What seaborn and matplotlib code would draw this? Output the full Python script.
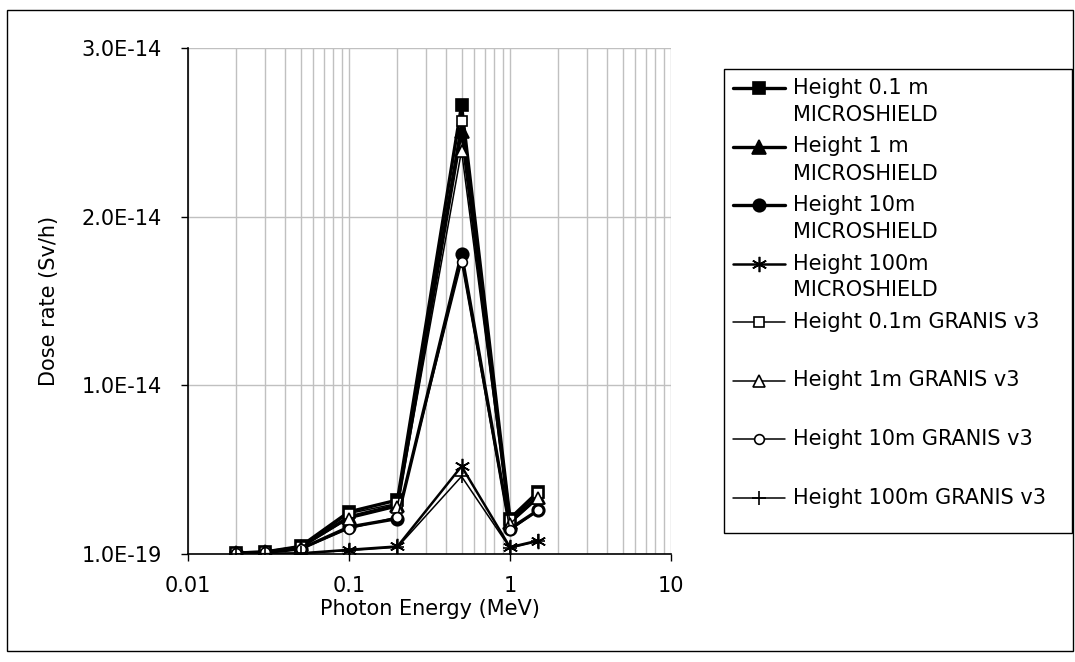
import numpy as np
import pandas as pd
import matplotlib
matplotlib.use("Agg")
import matplotlib.pyplot as plt
import seaborn as sns
from matplotlib.lines import Line2D
from matplotlib.patches import Rectangle

# ---- data (dose rate in units of 1e-14 Sv/h) ----
energy = [0.02, 0.03, 0.05, 0.1, 0.2, 0.5, 1, 1.5]
ms_01m = [0.006, 0.012, 0.045, 0.25, 0.32, 2.66, 0.21, 0.37]
ms_1m = [0.006, 0.011, 0.040, 0.22, 0.29, 2.51, 0.19, 0.34]
ms_10m = [0.005, 0.009, 0.030, 0.16, 0.21, 1.78, 0.15, 0.26]
ms_100m = [0.001, 0.002, 0.004, 0.025, 0.045, 0.52, 0.04, 0.08]
gr_01m = [0.006, 0.012, 0.042, 0.24, 0.30, 2.57, 0.20, 0.36]
gr_1m = [0.006, 0.011, 0.038, 0.21, 0.28, 2.39, 0.18, 0.33]
gr_10m = [0.005, 0.009, 0.028, 0.15, 0.22, 1.73, 0.14, 0.26]
gr_100m = [0.001, 0.002, 0.004, 0.02, 0.04, 0.46, 0.035, 0.075]

labels = ["Height 0.1 m\nMICROSHIELD", "Height 1 m\nMICROSHIELD",
          "Height 10m\nMICROSHIELD", "Height 100m\nMICROSHIELD",
          "Height 0.1m GRANIS v3", "Height 1m GRANIS v3",
          "Height 10m GRANIS v3", "Height 100m GRANIS v3"]
series = [ms_01m, ms_1m, ms_10m, ms_100m, gr_01m, gr_1m, gr_10m, gr_100m]

yticks = [1e-19, 1e-14, 2e-14, 3e-14]
ytick_labels = ["1.0E-19", "1.0E-14", "2.0E-14", "3.0E-14"]
xticks = [0.01, 0.1, 1, 10]
xtick_labels = ["0.01", "0.1", "1", "10"]

# ---- styles ----
styles = [
    dict(marker="s", mfc="black", ms=9, lw=2.4),
    dict(marker="^", mfc="black", ms=10, lw=2.4),
    dict(marker="o", mfc="black", ms=9, lw=2.4),
    dict(marker=(6, 2, 0), mfc="black", ms=11, lw=1.8),
    dict(marker="s", mfc="white", ms=7, lw=1.1),
    dict(marker="^", mfc="white", ms=8, lw=1.1),
    dict(marker="o", mfc="white", ms=7, lw=1.1),
    dict(marker="+", mfc="black", ms=10, lw=1.1),
]

sns.set_theme(style="white")
plt.rcParams["font.family"] = ["DejaVu Sans"]
FS = 15

fig = plt.figure(figsize=(10.75, 6.62), dpi=100)
ax = fig.add_axes([188 / 1075, 1 - 554 / 662, (671 - 188) / 1075, (554 - 48) / 662])

for lab, vals, st in zip(labels, series, styles):
    df = pd.DataFrame({"x": energy, "y": np.array(vals) * 1e-14})
    sns.lineplot(data=df, x="x", y="y", ax=ax, color="black",
                 linewidth=st["lw"], marker=st["marker"], markersize=st["ms"],
                 markerfacecolor=st["mfc"], markeredgecolor="black",
                 markeredgewidth=1.2, legend=False, zorder=3)

ax.set_xscale("log")
ax.set_xlim(0.01, 10)
ax.set_ylim(1e-19, 3e-14)
ax.set_xticks(xticks)
ax.set_xticklabels(xtick_labels)
ax.set_yticks(yticks)
ax.set_yticklabels(ytick_labels)
ax.xaxis.set_minor_locator(matplotlib.ticker.LogLocator(base=10, subs=np.arange(2, 10)))
ax.xaxis.set_minor_formatter(matplotlib.ticker.NullFormatter())

ax.grid(True, which="major", axis="both", color="#c0c0c0", lw=1.0, zorder=0)
ax.grid(True, which="minor", axis="x", color="#c0c0c0", lw=1.0, zorder=0)
ax.set_axisbelow(True)

for s in ["top", "right"]:
    ax.spines[s].set_visible(False)
for s in ["left", "bottom"]:
    ax.spines[s].set_color("black")
    ax.spines[s].set_linewidth(1.2)

ax.tick_params(axis="both", which="major", direction="out", length=5, width=1,
               color="black", labelsize=FS, labelcolor="black", left=True, bottom=True)
ax.tick_params(axis="x", which="minor", length=0)
ax.tick_params(axis="x", pad=11)
ax.tick_params(axis="y", pad=14)

ax.set_xlabel("Photon Energy (MeV)", fontsize=FS, color="black", labelpad=2)
ax.set_ylabel("Dose rate (Sv/h)", fontsize=FS, color="black", labelpad=16)

# ---- legend (drawn manually to mimic the original layout) ----
W, H = 1075, 662
fig.patches.append(Rectangle((724 / W, 1 - 533 / H), (1072 - 724) / W, (533 - 69) / H,
                             transform=fig.transFigure, fill=False, ec="black", lw=1.0))
y0, step = 88, 58.5
for i, (lab, st) in enumerate(zip(labels, styles)):
    yc = 1 - (y0 + i * step) / H
    fig.add_artist(Line2D([733 / W, 785 / W], [yc, yc], transform=fig.transFigure,
                          color="black", lw=st["lw"] if i < 4 else 1.1))
    fig.add_artist(Line2D([759 / W], [yc], transform=fig.transFigure, color="black",
                          marker=st["marker"], ms=st["ms"], mfc=st["mfc"],
                          mec="black", mew=1.2, lw=0))
    for j, line in enumerate(lab.split("\n")):
        fig.text(793 / W, yc - j * 27 / H, line, fontsize=FS, va="center", ha="left",
                 color="black")

# outer chart border
fig.patches.append(Rectangle((7 / W, 1 - 651 / H), (1073 - 7) / W, (651 - 10) / H,
                             transform=fig.transFigure, fill=False, ec="black", lw=1.0))

fig.savefig("out.png", dpi=100)
